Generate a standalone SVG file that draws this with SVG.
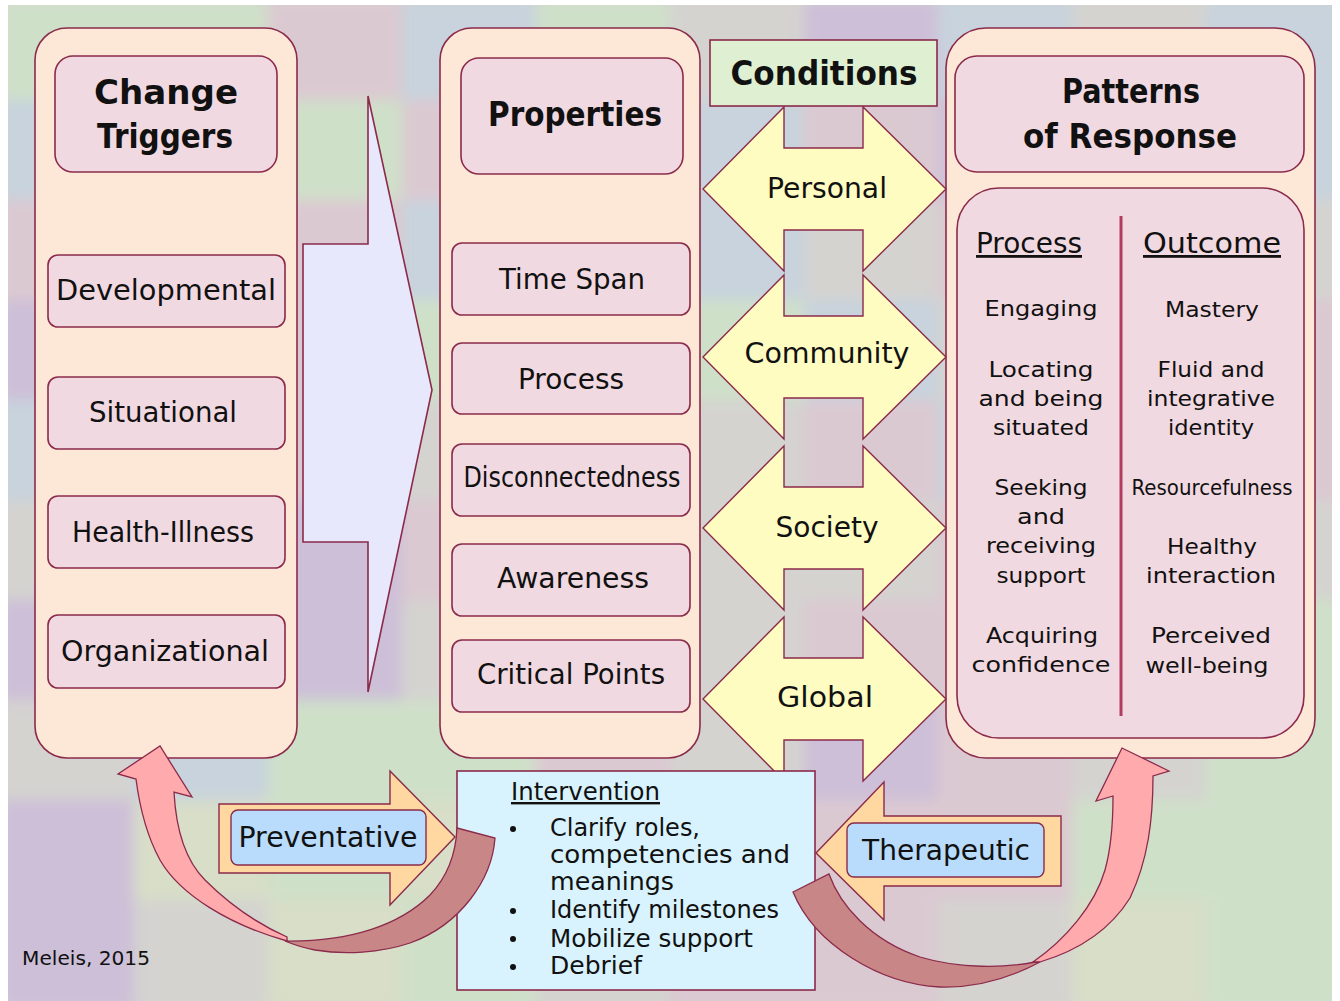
<svg xmlns="http://www.w3.org/2000/svg" width="1340" height="1001" viewBox="0 0 1340 1001">
<defs>
<style>
.panel{fill:#fde8d8;stroke:#8b2a4a;stroke-width:1.6}
.box{fill:#f1d9e1;stroke:#8b2a4a;stroke-width:1.6}
.cond{fill:#fffcc2;stroke:#8b2a4a;stroke-width:1.4}
.t{font-family:"DejaVu Sans","Liberation Sans",sans-serif;fill:#111;text-anchor:middle}
.l{text-anchor:start}
.h{font-weight:bold;font-size:34px}
.m{font-size:28px}
.s{font-size:22px}
.i{font-size:24px}
.u{text-decoration:underline}
.G{fill:#cfe0c9}.P{fill:#cdbfd8}.K{fill:#dbc9d1}.B{fill:#c8d3dd}.Y{fill:#d8dec8}.S{fill:#d4d3d0}
.orange{fill:#fed8a0;stroke:#8b2a4a;stroke-width:1.4}
.lbl{fill:#b9dcfc;stroke:#8b2a4a;stroke-width:1.4}
.dark{fill:#c98686;stroke:#8b2a4a;stroke-width:1.3}
.pink{fill:#ffabae;stroke:#8b2a4a;stroke-width:1.3}
</style>
<clipPath id="bgclip"><rect x="8" y="5" width="1324" height="996"/></clipPath>
<filter id="soft" x="-5%" y="-5%" width="110%" height="110%"><feGaussianBlur stdDeviation="7"/></filter>
</defs>
<rect width="1340" height="1001" fill="#ffffff"/>
<g id="background" clip-path="url(#bgclip)">
<rect x="8" y="5" width="1324" height="996" fill="#d4d3d0"/>
<g filter="url(#soft)">
<rect class="G" x="0" y="0" width="134" height="100"/><rect class="G" x="134" y="0" width="134" height="100"/><rect class="K" x="268" y="0" width="134" height="100"/><rect class="B" x="402" y="0" width="134" height="100"/><rect class="G" x="536" y="0" width="134" height="100"/><rect class="S" x="670" y="0" width="134" height="100"/><rect class="P" x="804" y="0" width="134" height="100"/><rect class="B" x="938" y="0" width="134" height="100"/><rect class="S" x="1072" y="0" width="134" height="100"/><rect class="B" x="1206" y="0" width="134" height="100"/>
<rect class="B" x="0" y="100" width="134" height="100"/><rect class="G" x="134" y="100" width="134" height="100"/><rect class="G" x="268" y="100" width="134" height="100"/><rect class="K" x="402" y="100" width="134" height="100"/><rect class="G" x="536" y="100" width="134" height="100"/><rect class="B" x="670" y="100" width="134" height="100"/><rect class="K" x="804" y="100" width="134" height="100"/><rect class="P" x="938" y="100" width="134" height="100"/><rect class="S" x="1072" y="100" width="134" height="100"/><rect class="B" x="1206" y="100" width="134" height="100"/>
<rect class="K" x="0" y="200" width="134" height="100"/><rect class="S" x="134" y="200" width="134" height="100"/><rect class="K" x="268" y="200" width="134" height="100"/><rect class="B" x="402" y="200" width="134" height="100"/><rect class="G" x="536" y="200" width="134" height="100"/><rect class="B" x="670" y="200" width="134" height="100"/><rect class="S" x="804" y="200" width="134" height="100"/><rect class="K" x="938" y="200" width="134" height="100"/><rect class="P" x="1072" y="200" width="134" height="100"/><rect class="S" x="1206" y="200" width="134" height="100"/>
<rect class="P" x="0" y="300" width="134" height="100"/><rect class="S" x="134" y="300" width="134" height="100"/><rect class="K" x="268" y="300" width="134" height="100"/><rect class="G" x="402" y="300" width="134" height="100"/><rect class="S" x="536" y="300" width="134" height="100"/><rect class="G" x="670" y="300" width="134" height="100"/><rect class="B" x="804" y="300" width="134" height="100"/><rect class="S" x="938" y="300" width="134" height="100"/><rect class="K" x="1072" y="300" width="134" height="100"/><rect class="K" x="1206" y="300" width="134" height="100"/>
<rect class="B" x="0" y="400" width="134" height="100"/><rect class="P" x="134" y="400" width="134" height="100"/><rect class="K" x="268" y="400" width="134" height="100"/><rect class="S" x="402" y="400" width="134" height="100"/><rect class="P" x="536" y="400" width="134" height="100"/><rect class="S" x="670" y="400" width="134" height="100"/><rect class="K" x="804" y="400" width="134" height="100"/><rect class="B" x="938" y="400" width="134" height="100"/><rect class="S" x="1072" y="400" width="134" height="100"/><rect class="K" x="1206" y="400" width="134" height="100"/>
<rect class="S" x="0" y="500" width="134" height="100"/><rect class="P" x="134" y="500" width="134" height="100"/><rect class="P" x="268" y="500" width="134" height="100"/><rect class="K" x="402" y="500" width="134" height="100"/><rect class="S" x="536" y="500" width="134" height="100"/><rect class="S" x="670" y="500" width="134" height="100"/><rect class="S" x="804" y="500" width="134" height="100"/><rect class="K" x="938" y="500" width="134" height="100"/><rect class="P" x="1072" y="500" width="134" height="100"/><rect class="S" x="1206" y="500" width="134" height="100"/>
<rect class="P" x="0" y="600" width="134" height="100"/><rect class="K" x="134" y="600" width="134" height="100"/><rect class="P" x="268" y="600" width="134" height="100"/><rect class="S" x="402" y="600" width="134" height="100"/><rect class="K" x="536" y="600" width="134" height="100"/><rect class="S" x="670" y="600" width="134" height="100"/><rect class="K" x="804" y="600" width="134" height="100"/><rect class="K" x="938" y="600" width="134" height="100"/><rect class="S" x="1072" y="600" width="134" height="100"/><rect class="G" x="1206" y="600" width="134" height="100"/>
<rect class="S" x="0" y="700" width="134" height="100"/><rect class="B" x="134" y="700" width="134" height="100"/><rect class="G" x="268" y="700" width="134" height="100"/><rect class="G" x="402" y="700" width="134" height="100"/><rect class="K" x="536" y="700" width="134" height="100"/><rect class="S" x="670" y="700" width="134" height="100"/><rect class="P" x="804" y="700" width="134" height="100"/><rect class="K" x="938" y="700" width="134" height="100"/><rect class="S" x="1072" y="700" width="134" height="100"/><rect class="G" x="1206" y="700" width="134" height="100"/>
<rect class="P" x="0" y="800" width="134" height="100"/><rect class="Y" x="134" y="800" width="134" height="100"/><rect class="G" x="268" y="800" width="134" height="100"/><rect class="Y" x="402" y="800" width="134" height="100"/><rect class="S" x="536" y="800" width="134" height="100"/><rect class="P" x="670" y="800" width="134" height="100"/><rect class="K" x="804" y="800" width="134" height="100"/><rect class="K" x="938" y="800" width="134" height="100"/><rect class="G" x="1072" y="800" width="134" height="100"/><rect class="G" x="1206" y="800" width="134" height="100"/>
<rect class="P" x="0" y="900" width="134" height="110"/><rect class="S" x="134" y="900" width="134" height="110"/><rect class="Y" x="268" y="900" width="134" height="110"/><rect class="G" x="402" y="900" width="134" height="110"/><rect class="S" x="536" y="900" width="134" height="110"/><rect class="K" x="670" y="900" width="134" height="110"/><rect class="K" x="804" y="900" width="134" height="110"/><rect class="S" x="938" y="900" width="134" height="110"/><rect class="Y" x="1072" y="900" width="134" height="110"/><rect class="G" x="1206" y="900" width="134" height="110"/>
</g>
</g>

<g id="change-triggers">
<rect class="panel" x="35" y="28" width="262" height="730" rx="32"/>
<rect class="box" x="55" y="56" width="222" height="116" rx="18"/>
<text class="t h" x="166" y="104" textLength="144" lengthAdjust="spacingAndGlyphs">Change</text>
<text class="t h" x="165" y="148" textLength="136" lengthAdjust="spacingAndGlyphs">Triggers</text>
</g>
<g id="developmental"><rect class="box" x="48" y="255" width="237" height="72" rx="10"/><text class="t m" x="166" y="300" textLength="220" lengthAdjust="spacingAndGlyphs">Developmental</text></g>
<g id="situational"><rect class="box" x="48" y="377" width="237" height="72" rx="10"/><text class="t m" x="163" y="422" textLength="148" lengthAdjust="spacingAndGlyphs">Situational</text></g>
<g id="health-illness"><rect class="box" x="48" y="496" width="237" height="72" rx="10"/><text class="t m" x="163" y="542" textLength="182" lengthAdjust="spacingAndGlyphs">Health-Illness</text></g>
<g id="organizational"><rect class="box" x="48" y="615" width="237" height="73" rx="10"/><text class="t m" x="165" y="661" textLength="208" lengthAdjust="spacingAndGlyphs">Organizational</text></g>

<g id="properties">
<rect class="panel" x="440" y="28" width="260" height="730" rx="32"/>
<rect class="box" x="461" y="58" width="222" height="116" rx="18"/>
<text class="t h" x="575" y="126" textLength="174" lengthAdjust="spacingAndGlyphs">Properties</text>
</g>
<g id="time-span"><rect class="box" x="452" y="243" width="238" height="72" rx="10"/><text class="t m" x="572" y="289" textLength="146" lengthAdjust="spacingAndGlyphs">Time Span</text></g>
<g id="process-prop"><rect class="box" x="452" y="343" width="238" height="71" rx="10"/><text class="t m" x="571" y="389" textLength="106" lengthAdjust="spacingAndGlyphs">Process</text></g>
<g id="disconnectedness"><rect class="box" x="452" y="444" width="238" height="72" rx="10"/><text class="t m" x="572" y="487" textLength="217" lengthAdjust="spacingAndGlyphs">Disconnectedness</text></g>
<g id="awareness"><rect class="box" x="452" y="544" width="238" height="72" rx="10"/><text class="t m" x="573" y="588" textLength="152" lengthAdjust="spacingAndGlyphs">Awareness</text></g>
<g id="critical-points"><rect class="box" x="452" y="640" width="238" height="72" rx="10"/><text class="t m" x="571" y="684" textLength="188" lengthAdjust="spacingAndGlyphs">Critical Points</text></g>

<g id="patterns-of-response">
<rect class="panel" x="946" y="28" width="369" height="730" rx="40"/>
<rect class="box" x="955" y="56" width="349" height="116" rx="22"/>
<text class="t h" x="1131" y="103" textLength="138" lengthAdjust="spacingAndGlyphs">Patterns</text>
<text class="t h" x="1130" y="148" textLength="214" lengthAdjust="spacingAndGlyphs">of Response</text>
<rect class="box" x="957" y="188" width="347" height="550" rx="42"/>
<line x1="1121" y1="216" x2="1121" y2="716" stroke="#b23d5e" stroke-width="3"/>
<text class="t m u" x="1029" y="253" textLength="106" lengthAdjust="spacingAndGlyphs">Process</text>
<text class="t m u" x="1212" y="253" textLength="138" lengthAdjust="spacingAndGlyphs">Outcome</text>
<text class="t s" x="1041" y="316" textLength="113" lengthAdjust="spacingAndGlyphs">Engaging</text>
<text class="t s" x="1041" y="377" textLength="105" lengthAdjust="spacingAndGlyphs">Locating</text>
<text class="t s" x="1041" y="406" textLength="125" lengthAdjust="spacingAndGlyphs">and being</text>
<text class="t s" x="1041" y="435" textLength="96" lengthAdjust="spacingAndGlyphs">situated</text>
<text class="t s" x="1041" y="495" textLength="93" lengthAdjust="spacingAndGlyphs">Seeking</text>
<text class="t s" x="1041" y="524" textLength="48" lengthAdjust="spacingAndGlyphs">and</text>
<text class="t s" x="1041" y="553" textLength="110" lengthAdjust="spacingAndGlyphs">receiving</text>
<text class="t s" x="1041" y="583" textLength="89" lengthAdjust="spacingAndGlyphs">support</text>
<text class="t s" x="1042" y="643" textLength="112" lengthAdjust="spacingAndGlyphs">Acquiring</text>
<text class="t s" x="1041" y="672" textLength="139" lengthAdjust="spacingAndGlyphs">confidence</text>
<text class="t s" x="1212" y="317" textLength="94" lengthAdjust="spacingAndGlyphs">Mastery</text>
<text class="t s" x="1211" y="377" textLength="107" lengthAdjust="spacingAndGlyphs">Fluid and</text>
<text class="t s" x="1211" y="406" textLength="128" lengthAdjust="spacingAndGlyphs">integrative</text>
<text class="t s" x="1211" y="435" textLength="86" lengthAdjust="spacingAndGlyphs">identity</text>
<text class="t s" x="1212" y="495" textLength="161" lengthAdjust="spacingAndGlyphs">Resourcefulness</text>
<text class="t s" x="1212" y="554" textLength="90" lengthAdjust="spacingAndGlyphs">Healthy</text>
<text class="t s" x="1211" y="583" textLength="130" lengthAdjust="spacingAndGlyphs">interaction</text>
<text class="t s" x="1211" y="643" textLength="120" lengthAdjust="spacingAndGlyphs">Perceived</text>
<text class="t s" x="1207" y="673" textLength="123" lengthAdjust="spacingAndGlyphs">well-being</text>
</g>

<g id="connectors">
<path class="box" style="fill:#e8e8fc" d="M303,244 L368,244 L368,96 L432,390 L368,692 L368,542 L303,542 Z"/>
</g>

<g id="personal"><path class="cond" d="M703,189 L784,107 L784,148 L863,148 L863,107 L946,189 L863,271 L863,230 L784,230 L784,271 Z"/><text class="t m" x="827" y="198" textLength="120" lengthAdjust="spacingAndGlyphs">Personal</text></g>
<g id="community"><path class="cond" d="M703,357 L784,275 L784,316 L863,316 L863,275 L946,357 L863,439 L863,398 L784,398 L784,439 Z"/><text class="t m" x="827" y="363" textLength="165" lengthAdjust="spacingAndGlyphs">Community</text></g>
<g id="society"><path class="cond" d="M703,528 L784,446 L784,487 L863,487 L863,446 L946,528 L863,610 L863,569 L784,569 L784,610 Z"/><text class="t m" x="827" y="537" textLength="103" lengthAdjust="spacingAndGlyphs">Society</text></g>
<g id="global"><path class="cond" d="M703,699 L784,617 L784,658 L863,658 L863,617 L946,699 L863,781 L863,740 L784,740 L784,781 Z"/><text class="t m" x="825" y="707" textLength="96" lengthAdjust="spacingAndGlyphs">Global</text></g>
<g id="conditions"><rect x="710" y="40" width="227" height="66" fill="#def0d1" stroke="#8b2a4a" stroke-width="1.6"/><text class="t h" x="824" y="85" textLength="187" lengthAdjust="spacingAndGlyphs">Conditions</text></g>

<g id="intervention">
<rect x="457" y="771" width="358" height="219" fill="#d8f3fd" stroke="#8b2a4a" stroke-width="1.6"/>
<text class="t i l u" x="511" y="800" textLength="149" lengthAdjust="spacingAndGlyphs">Intervention</text>
<circle cx="513" cy="829" r="3" fill="#111"/>
<circle cx="513" cy="911" r="3" fill="#111"/>
<circle cx="513" cy="939" r="3" fill="#111"/>
<circle cx="513" cy="967" r="3" fill="#111"/>
<text class="t i l" x="550" y="836" textLength="150" lengthAdjust="spacingAndGlyphs">Clarify roles,</text>
<text class="t i l" x="550" y="863" textLength="240" lengthAdjust="spacingAndGlyphs">competencies and</text>
<text class="t i l" x="550" y="890" textLength="124" lengthAdjust="spacingAndGlyphs">meanings</text>
<text class="t i l" x="550" y="918" textLength="229" lengthAdjust="spacingAndGlyphs">Identify milestones</text>
<text class="t i l" x="550" y="947" textLength="203" lengthAdjust="spacingAndGlyphs">Mobilize support</text>
<text class="t i l" x="550" y="974" textLength="92" lengthAdjust="spacingAndGlyphs">Debrief</text>
</g>

<g id="preventative">
<path class="orange" d="M219,804 L390,804 L390,771 L455,837 L390,905 L390,873 L219,873 Z"/>
<rect class="lbl" x="231" y="810" width="195" height="55" rx="7"/>
<text class="t m" x="328" y="847" textLength="179" lengthAdjust="spacingAndGlyphs">Preventative</text>
</g>
<g id="therapeutic">
<path class="orange" d="M1061,816 L884,816 L884,782 L816,853 L884,920 L884,886 L1061,886 Z"/>
<rect class="lbl" x="847" y="823" width="197" height="54" rx="7"/>
<text class="t m" x="946" y="860" textLength="168" lengthAdjust="spacingAndGlyphs">Therapeutic</text>
</g>

<g id="feedback-arrows">
<path class="dark" d="M457,828 L495,838 C492,880 460,925 410,943 C380,953 345,955 315,950 C300,947 292,944 285,941 C350,942 400,925 430,895 C448,876 456,852 457,828 Z"/>
<path class="pink" d="M287,941 C230,925 180,895 160,860 C148,838 140,810 136,779 L118,774 L160,746 L192,797 L174,792 C176,830 185,860 205,880 C230,905 260,925 287,937 Z"/>
<path class="dark" d="M793,892 L829,874 C840,905 870,940 920,957 C960,969 1005,968 1035,962 L1040,962 C1010,978 975,988 940,987 C880,984 815,945 793,892 Z"/>
<path class="pink" d="M1033,962 C1065,940 1095,905 1105,870 C1112,845 1113,820 1113,796 L1096,801 L1122,748 L1169,771 L1153,776 C1153,820 1148,860 1130,898 C1110,930 1080,950 1040,962 Z"/>
</g>

<text class="t l" x="22" y="965" style="font-size:19px" textLength="128" lengthAdjust="spacingAndGlyphs">Meleis, 2015</text>
</svg>
